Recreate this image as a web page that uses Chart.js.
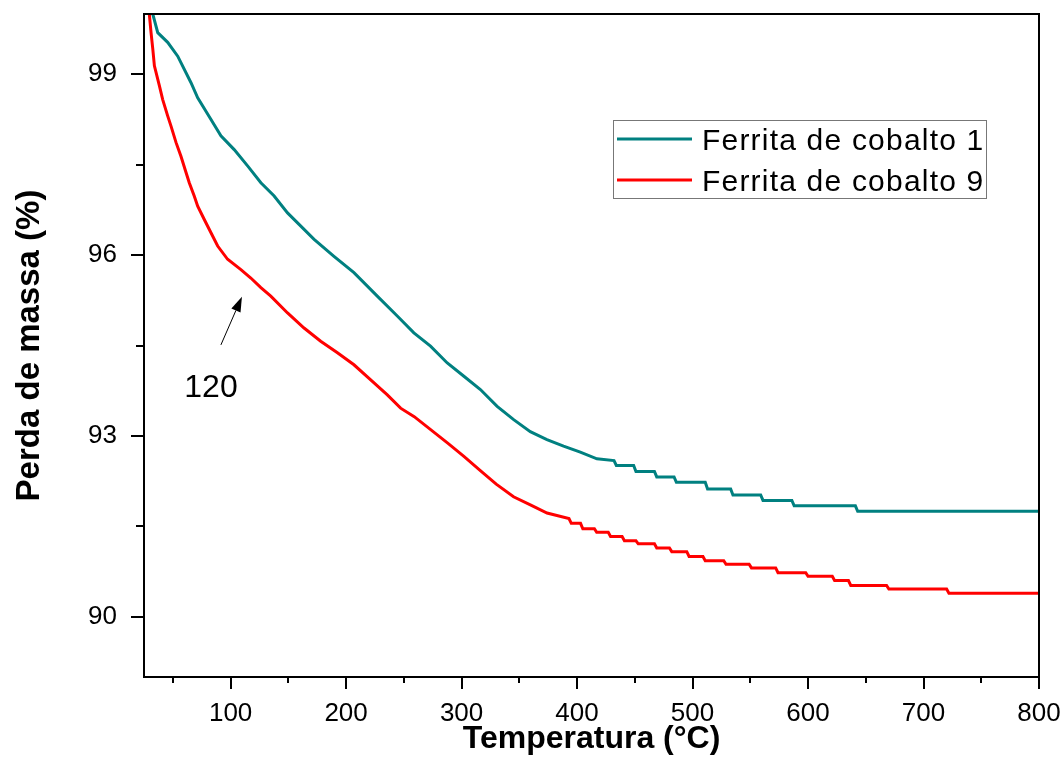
<!DOCTYPE html>
<html>
<head>
<meta charset="utf-8">
<title>Perda de massa</title>
<script src="https://cdn.jsdelivr.net/npm/chart.js@4/dist/chart.umd.min.js"></script>
<style>
    html, body { margin: 0; padding: 0; background: #fff; }
    canvas { display: block; }
</style>
</head>
<body>
<canvas id="tgaChart" width="1063" height="780"></canvas>
<script>
// Ferrita de cobalto 1 (teal)
const ferrita1Temp = [32.6, 36.9, 45.5, 54.2, 65.7, 71.5, 83, 91.6, 103.1, 114.7, 126.2, 137.7, 149.3, 160.8, 172.3, 189.5, 206.8, 227,
    244.3, 258.7, 273.1, 287.6, 302, 316.3, 330.8, 345.1, 359.5, 373.9, 388.3, 402.8, 417.2,
    432, 434, 449, 451, 467, 469, 484, 486, 511, 513, 533, 535, 559, 561, 586, 588, 641, 643, 800];
const ferrita1Mass = [100.0, 99.69, 99.53, 99.30, 98.86, 98.61, 98.25, 97.98, 97.75, 97.48, 97.20, 96.98, 96.70, 96.48, 96.26, 95.98, 95.71, 95.32,
    94.99, 94.71, 94.49, 94.21, 93.99, 93.77, 93.49, 93.27, 93.07, 92.94, 92.83, 92.73, 92.62,
    92.59, 92.51, 92.51, 92.41, 92.41, 92.32, 92.32, 92.23, 92.23, 92.12, 92.12, 92.02, 92.02, 91.93, 91.93, 91.84, 91.84, 91.75, 91.75];

// Ferrita de cobalto 9 (red)
const ferrita9Temp = [29.6, 31.1, 32.6, 34, 38.3, 41.2, 45.5, 48.4, 52.7, 57, 61.4, 64.2, 68.5, 71.5, 77.2, 83, 88.8, 97.4, 108.9, 117.5, 126.2, 134.8,
    149.3, 163.6, 178, 192.5, 206.8, 221.3, 235.7, 247.2, 259, 288, 302, 316, 330, 345, 360, 374,
    393, 395, 403, 405, 415, 417, 427, 429, 439, 441, 451, 453, 467, 469, 480, 482, 495, 497, 509, 511,
    527, 529, 549, 551, 572, 574, 598, 600, 621, 623, 635, 637, 668, 670, 720, 722, 800];
const ferrita9Mass = [100.0, 99.69, 99.42, 99.14, 98.81, 98.58, 98.31, 98.14, 97.87, 97.64, 97.37, 97.20, 96.98, 96.81, 96.59, 96.37, 96.15, 95.93, 95.76, 95.62, 95.46, 95.32,
    95.04, 94.79, 94.57, 94.38, 94.18, 93.93, 93.68, 93.46, 93.32, 92.88, 92.66, 92.43, 92.20, 91.99, 91.85, 91.72,
    91.63, 91.55, 91.55, 91.46, 91.46, 91.40, 91.40, 91.33, 91.33, 91.26, 91.26, 91.21, 91.21, 91.14, 91.14, 91.08, 91.08, 91.00, 91.00, 90.93,
    90.93, 90.87, 90.87, 90.81, 90.81, 90.73, 90.73, 90.67, 90.67, 90.60, 90.60, 90.52, 90.52, 90.46, 90.46, 90.39, 90.39];

const seriesLabels = ['Ferrita de cobalto 1', 'Ferrita de cobalto 9'];
const seriesColors = ['#008080', '#ff0000'];

// axes
const xTicks = [100, 200, 300, 400, 500, 600, 700, 800];
const xMinorTicks = [50, 150, 250, 350, 450, 550, 650, 750];
const yTicks = [90, 93, 96, 99];
const yMinorTicks = [91.5, 94.5, 97.5];

// annotation "120" with arrow
const noteText = '120';
const notePos = [83, 93.8];
const arrowFrom = [91.6, 94.51];
const arrowTo = [109.8, 95.31];

const fontFamily = "Arial, 'Liberation Sans', sans-serif";

function toPoints(xs, ys) {
    return xs.map((x, i) => ({ x: x, y: ys[i] }));
}

// box around the plot + outward ticks
const framePlugin = {
    id: 'frame',
    afterDatasetsDraw(chart) {
        const ctx = chart.ctx;
        const ca = chart.chartArea;
        const xs = chart.scales.x;
        const ys = chart.scales.y;
        ctx.save();
        ctx.strokeStyle = '#000';
        ctx.lineWidth = 2;
        ctx.strokeRect(ca.left, ca.top, ca.right - ca.left, ca.bottom - ca.top);

        ctx.beginPath();
        xTicks.forEach(v => {
            const px = Math.round(xs.getPixelForValue(v));
            ctx.moveTo(px, ca.bottom);
            ctx.lineTo(px, ca.bottom + 12);
        });
        xMinorTicks.forEach(v => {
            const px = Math.round(xs.getPixelForValue(v));
            ctx.moveTo(px, ca.bottom);
            ctx.lineTo(px, ca.bottom + 6);
        });
        yTicks.forEach(v => {
            const py = Math.round(ys.getPixelForValue(v));
            ctx.moveTo(ca.left, py);
            ctx.lineTo(ca.left - 13, py);
        });
        yMinorTicks.forEach(v => {
            const py = Math.round(ys.getPixelForValue(v));
            ctx.moveTo(ca.left, py);
            ctx.lineTo(ca.left - 8, py);
        });
        ctx.stroke();
        ctx.restore();
    }
};

// legend box inside the plot
const legendPlugin = {
    id: 'boxLegend',
    afterDraw(chart) {
        const ctx = chart.ctx;
        const ca = chart.chartArea;
        const left = ca.left + 469, top = ca.top + 106;
        const w = 373, h = 78;
        ctx.save();
        ctx.strokeStyle = '#777';
        ctx.lineWidth = 1;
        ctx.strokeRect(left + 0.5, top + 0.5, w, h);
        ctx.font = '30px ' + fontFamily;
        ctx.letterSpacing = '1.2px';
        ctx.fillStyle = '#000';
        ctx.textBaseline = 'alphabetic';
        chart.data.datasets.forEach((ds, i) => {
            const y = top + 19 + i * 41;
            ctx.strokeStyle = ds.borderColor;
            ctx.lineWidth = 3;
            ctx.beginPath();
            ctx.moveTo(left + 4, y);
            ctx.lineTo(left + 79, y);
            ctx.stroke();
            ctx.fillText(ds.label, left + 89, y + 11);
        });
        ctx.restore();
    }
};

// "120" label with arrow
const notePlugin = {
    id: 'note',
    afterDraw(chart) {
        const ctx = chart.ctx;
        const xs = chart.scales.x;
        const ys = chart.scales.y;
        ctx.save();
        ctx.fillStyle = '#000';
        ctx.font = '32px ' + fontFamily;
        ctx.textAlign = 'center';
        ctx.textBaseline = 'middle';
        ctx.fillText(noteText, xs.getPixelForValue(notePos[0]), ys.getPixelForValue(notePos[1]));

        const x1 = xs.getPixelForValue(arrowFrom[0]), y1 = ys.getPixelForValue(arrowFrom[1]);
        const x2 = xs.getPixelForValue(arrowTo[0]), y2 = ys.getPixelForValue(arrowTo[1]);
        const ang = Math.atan2(y2 - y1, x2 - x1);
        const headLen = 15, headW = 5;
        const bx = x2 - headLen * Math.cos(ang), by = y2 - headLen * Math.sin(ang);
        ctx.strokeStyle = '#000';
        ctx.lineWidth = 1;
        ctx.beginPath();
        ctx.moveTo(x1, y1);
        ctx.lineTo(bx, by);
        ctx.stroke();
        ctx.beginPath();
        ctx.moveTo(x2, y2);
        ctx.lineTo(bx + headW * Math.sin(ang), by - headW * Math.cos(ang));
        ctx.lineTo(bx - headW * Math.sin(ang), by + headW * Math.cos(ang));
        ctx.closePath();
        ctx.fill();
        ctx.restore();
    }
};

new Chart(document.getElementById('tgaChart'), {
    type: 'line',
    data: {
        datasets: [
            {
                label: seriesLabels[0],
                data: toPoints(ferrita1Temp, ferrita1Mass),
                borderColor: seriesColors[0],
                borderWidth: 3,
                pointRadius: 0,
                tension: 0,
                fill: false
            },
            {
                label: seriesLabels[1],
                data: toPoints(ferrita9Temp, ferrita9Mass),
                borderColor: seriesColors[1],
                borderWidth: 3,
                pointRadius: 0,
                tension: 0,
                fill: false
            }
        ]
    },
    options: {
        responsive: false,
        animation: false,
        layout: { padding: { top: 14, right: 24, left: 0, bottom: 0 } },
        plugins: {
            legend: { display: false },
            tooltip: { enabled: false }
        },
        scales: {
            x: {
                type: 'linear',
                min: 25,
                max: 800,
                grid: { display: false, drawTicks: false },
                border: { display: false },
                afterBuildTicks: (axis) => { axis.ticks = xTicks.map(v => ({ value: v })); },
                afterFit: (axis) => {
                    axis.height = 103;
                    axis.paddingLeft = 0;
                    axis.paddingRight = 0;
                },
                ticks: {
                    color: '#000',
                    padding: 21,
                    maxRotation: 0,
                    font: { family: fontFamily, size: 26 }
                },
                title: {
                    display: true,
                    text: 'Temperatura (°C)',
                    color: '#000',
                    padding: { top: 0, bottom: 22 },
                    font: { family: fontFamily, size: 32, weight: 'bold' }
                }
            },
            y: {
                min: 89,
                max: 100,
                grid: { display: false, drawTicks: false },
                border: { display: false },
                afterBuildTicks: (axis) => { axis.ticks = yTicks.map(v => ({ value: v })); },
                afterFit: (axis) => {
                    axis.width = 144;
                    axis.paddingTop = 0;
                    axis.paddingBottom = 0;
                },
                ticks: {
                    color: '#000',
                    padding: 27,
                    font: { family: fontFamily, size: 26 }
                },
                title: {
                    display: true,
                    text: 'Perda de massa (%)',
                    color: '#000',
                    padding: { top: 10, bottom: 0 },
                    font: { family: fontFamily, size: 33, weight: 'bold' }
                }
            }
        }
    },
    plugins: [framePlugin, legendPlugin, notePlugin]
});
</script>
</body>
</html>
